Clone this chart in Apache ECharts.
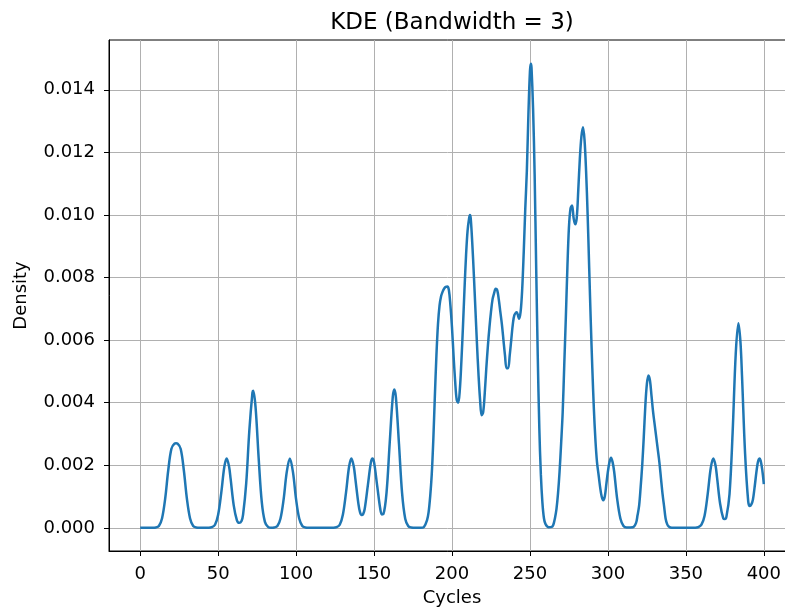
<!DOCTYPE html>
<html lang="en">
<head>
    <meta charset="UTF-8">
    <title>KDE (Bandwidth = 3)</title>
    <script src="https://cdn.jsdelivr.net/npm/echarts@6/dist/echarts.min.js"></script>
    <style>
        html, body { margin: 0; padding: 0; background: #fff; }
    </style>
</head>
<body>
<div id="main" style="width:785px; height:612px;"></div>
<script>
    // values
    var cycles = [
        0, 8, 10, 12, 14, 16, 18, 20, 22, 23, 24, 26, 28, 30, 32, 34, 36, 38,
        44, 46, 48, 50, 52, 54, 55.5, 57, 58, 60, 62, 63.5, 65, 66, 68, 70, 72, 72.5, 74, 76, 78, 80, 82, 84,
        86, 88, 90, 92, 94, 96, 98, 100, 102, 104, 106, 108,
        124, 126, 128, 130, 132, 134, 135.5, 137, 138, 140, 141, 142, 143, 144, 146, 148, 149, 150, 152, 154, 155, 156,
        158, 160, 162, 163, 164, 166, 168, 170, 172, 174, 176,
        180, 182, 184, 185, 186, 187, 188, 189, 190, 191, 192, 193, 194, 195, 196, 197, 198, 199, 200,
        201, 202, 203, 204, 205, 206, 207, 208, 209, 210, 211, 211.5, 212, 213, 214, 215, 216, 217, 218, 219, 220,
        221, 222, 223, 224, 225, 226, 227, 228, 229, 230, 231, 232, 233, 234, 235, 236, 237, 238, 239, 240,
        241.5, 243, 244, 245, 246, 247, 248, 249, 250, 250.6, 251, 252, 253, 254, 255, 256, 257, 258, 259, 260,
        262, 264, 265, 266, 267, 268, 269, 270, 271, 272, 273, 274, 275, 276, 277, 278, 279, 280,
        281, 282, 283, 284, 285, 286, 287, 288, 289, 290, 291, 292, 293, 294, 295, 296, 297, 298, 299, 300,
        301, 302, 303, 304, 306, 308, 310, 312,
        316, 318, 319, 320, 321, 322, 323, 324, 325, 326, 327, 328, 329, 330, 331, 332, 333, 334, 335, 336, 337, 338, 339, 341,
        356, 358, 360, 362, 364, 366, 367.6, 369, 370, 372, 374, 375, 376, 378, 380, 382, 383.7, 385, 386, 388, 390,
        391, 392, 393, 394, 396, 397.2, 398, 399, 400
    ];
    var density = [
        0, 0, 0.00001, 0.00006, 0.0003, 0.00092, 0.00184, 0.00252, 0.00269, 0.0027, 0.00269, 0.00252, 0.00184, 0.00092, 0.0003, 0.00006, 0.00001, 0,
        0, 0.00002, 0.0001, 0.00042, 0.00112, 0.00196, 0.00222, 0.00196, 0.00157, 0.00072, 0.00025, 0.00016, 0.00022, 0.00042, 0.00142, 0.0031, 0.00432, 0.00438, 0.00386, 0.00222, 0.00082, 0.00019, 0.00003, 0,
        0.00001, 0.00006, 0.0003, 0.00091, 0.00178, 0.00222, 0.00178, 0.00091, 0.0003, 0.00006, 0.00001, 0,
        0, 0.00002, 0.0001, 0.00042, 0.00112, 0.00196, 0.00222, 0.00196, 0.00157, 0.00076, 0.0005, 0.00041, 0.00044, 0.0006, 0.00135, 0.0021, 0.00222, 0.0021, 0.00135, 0.0006, 0.00043, 0.00044,
        0.00112, 0.00268, 0.00418, 0.00442, 0.00418, 0.00268, 0.0011, 0.00029, 0.00005, 0.00001, 0,
        0, 0.00003, 0.00025, 0.0005, 0.001, 0.0017, 0.0028, 0.0042, 0.0055, 0.0065, 0.0071, 0.0074, 0.00755, 0.00765, 0.0077, 0.00771, 0.0076, 0.0071, 0.0064,
        0.0055, 0.0047, 0.0041, 0.004, 0.0044, 0.0053, 0.0064, 0.0076, 0.0087, 0.0095, 0.0099, 0.01, 0.0099, 0.0091, 0.0081, 0.007, 0.0059, 0.0049, 0.0041, 0.0036, 0.0037,
        0.0043, 0.0051, 0.0058, 0.0064, 0.0069, 0.0073, 0.0075, 0.00764, 0.0076, 0.0073, 0.0069, 0.0065, 0.006, 0.0055, 0.0051, 0.0051, 0.0055, 0.006, 0.0065, 0.0068,
        0.00689, 0.00668, 0.0069, 0.0076, 0.0088, 0.0102, 0.0114, 0.0132, 0.0146, 0.01483, 0.0147, 0.0134, 0.0113, 0.0083, 0.0055, 0.0032, 0.0017, 0.0008, 0.0003, 0.00012,
        0.00002, 0.00003, 0.0001, 0.0003, 0.0006, 0.0011, 0.0018, 0.0027, 0.0037, 0.0052, 0.0067, 0.0083, 0.0096, 0.0102, 0.0103, 0.0099, 0.0097, 0.0099,
        0.0108, 0.0118, 0.0125, 0.0128, 0.0124, 0.0114, 0.01, 0.0083, 0.0066, 0.0051, 0.0038, 0.0028, 0.0021, 0.0017, 0.0013, 0.001, 0.00088, 0.001, 0.0014, 0.0018,
        0.0021, 0.00224, 0.0021, 0.0018, 0.0009, 0.0003, 0.00006, 0.00001,
        0.00002, 0.00015, 0.0004, 0.0007, 0.0013, 0.002, 0.0029, 0.0039, 0.0046, 0.00487, 0.0047, 0.0042, 0.0037, 0.0033, 0.0029, 0.0025, 0.0021, 0.0016, 0.0011, 0.0007, 0.0003, 0.00012, 0.00004, 0,
        0, 0.00002, 0.0001, 0.00039, 0.00108, 0.00192, 0.00222, 0.002, 0.00161, 0.00076, 0.0003, 0.00028, 0.00035, 0.00108, 0.00305, 0.00557, 0.00654, 0.00595, 0.00487, 0.00236, 0.00084,
        0.0007, 0.00075, 0.0009, 0.00126, 0.00205, 0.00222, 0.00214, 0.00185, 0.0014
    ];
    var xTicks = [0, 50, 100, 150, 200, 250, 300, 350, 400];
    var yTicks = [0, 0.002, 0.004, 0.006, 0.008, 0.010, 0.012, 0.014];

    var points = [];
    for (var i = 0; i < cycles.length; i++) {
        points.push([cycles[i], density[i]]);
    }

    var font = 'DejaVu Sans';
    var myChart = echarts.init(document.getElementById('main'), null, {renderer: 'canvas'});
    var option = {
        animation: false,
        backgroundColor: '#ffffff',
        title: {
            text: 'KDE (Bandwidth = 3)',
            left: 447,
            textAlign: 'center',
            top: 7,
            textStyle: {fontFamily: font, fontSize: 23, fontWeight: 'normal', color: '#000'}
        },
        grid: {
            // the right spine sits past the canvas edge, as in the reference
            left: 109,
            width: 686,
            top: 40,
            bottom: 61,
            outerBoundsMode: 'none',
            containLabel: false,
            show: true,
            borderColor: '#000',
            borderWidth: 1,
            backgroundColor: '#fff'
        },
        xAxis: {
            type: 'value',
            min: -20,
            max: 420,
            name: 'Cycles',
            nameLocation: 'middle',
            nameGap: 38,
            nameTextStyle: {fontFamily: font, fontSize: 18, color: '#000'},
            axisLine: {show: true, onZero: false, lineStyle: {color: '#000', width: 1}},
            axisTick: {show: true, length: 5, customValues: xTicks, lineStyle: {color: '#000'}},
            axisLabel: {
                customValues: xTicks,
                margin: 14,
                fontFamily: font,
                fontSize: 18,
                color: '#000'
            },
            splitLine: {show: true, lineStyle: {color: '#b0b0b0', width: 1}}
        },
        yAxis: {
            type: 'value',
            min: -0.00074,
            max: 0.01559,
            name: 'Density',
            nameLocation: 'middle',
            nameGap: 79,
            nameTextStyle: {fontFamily: font, fontSize: 18, color: '#000'},
            axisLine: {show: true, onZero: false, lineStyle: {color: '#000', width: 1}},
            axisTick: {show: true, length: 5, customValues: yTicks, lineStyle: {color: '#000'}},
            axisLabel: {
                customValues: yTicks,
                margin: 14,
                fontFamily: font,
                fontSize: 18,
                color: '#000',
                formatter: function (v) { return v.toFixed(3); }
            },
            splitLine: {show: true, lineStyle: {color: '#b0b0b0', width: 1}}
        },
        series: [
            {
                type: 'line',
                data: points,
                smooth: 0.35,
                showSymbol: false,
                lineStyle: {color: '#1f77b4', width: 2.5}
            }
        ]
    };
    myChart.setOption(option);
</script>
</body>
</html>
